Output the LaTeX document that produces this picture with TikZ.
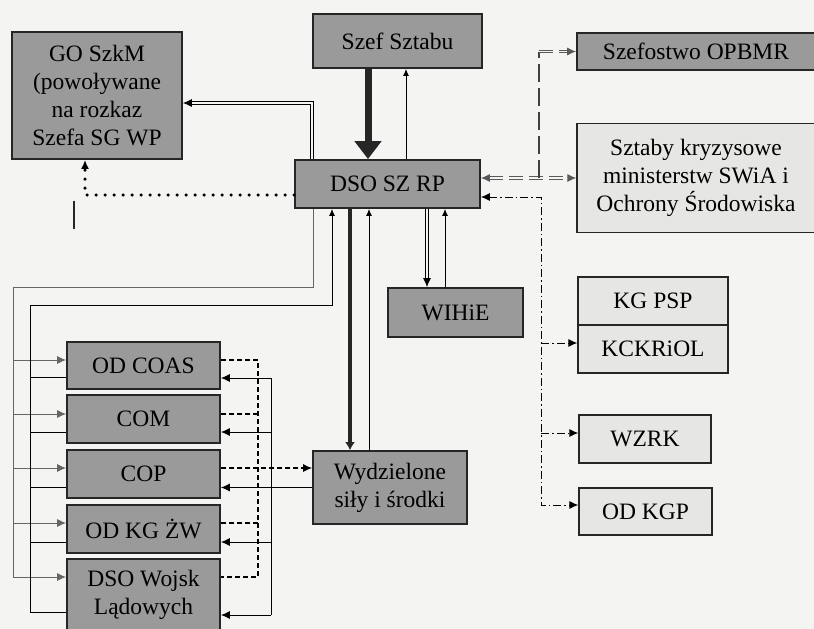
\documentclass[tikz,border=0pt]{standalone}
\usepackage{fontspec}
\setmainfont{Liberation Serif}
\usepackage{xcolor}
\definecolor{boxdark}{HTML}{9A9A9A}
\definecolor{boxlight}{HTML}{E6E6E4}
\definecolor{edgegray}{HTML}{262626}
\definecolor{paper}{HTML}{F4F4F2}
\usetikzlibrary{arrows.meta,calc}

\begin{document}
\begin{tikzpicture}[x=1pt,y=-1pt,font=\fontsize{23.5}{28}\selectfont,line width=1pt,
  dbox/.style={draw=edgegray,line width=1.8pt,fill=boxdark,align=center,inner sep=0pt},
  lbox/.style={draw=edgegray,line width=1.3pt,fill=boxlight,align=center,inner sep=0pt},
  tip/.style={-{Latex[length=9pt,width=8pt]}},
  smalltip/.style={-{Latex[length=7pt,width=6pt]}},
  dblline/.style={double=paper,double distance=1.8pt,line width=0.9pt},
  dbldash/.style={draw=gray!70!black,double=paper,double distance=1.4pt,line width=1pt,
                  dash pattern=on 14pt off 6pt},
  longdash/.style={draw=gray!50!black,line width=1.4pt,dash pattern=on 18pt off 6pt},
  dashdot/.style={line width=1pt,dash pattern=on 8pt off 3pt on 1.5pt off 3pt},
  dots/.style={line width=3.5pt,dash pattern=on 0pt off 9pt,line cap=round},
  dsh/.style={line width=1.1pt,dash pattern=on 5pt off 3pt},
  thinline/.style={draw=gray!80!black,line width=0.9pt}]
  % Page
  \fill[paper] (0,0) rectangle (814,629);
  \useasboundingbox (0,0) rectangle (814,629);
  % Top boxes
  \node[dbox,minimum width=170pt,minimum height=127pt] (goszkm) at (97,95.5)
    {GO SzkM\\(powoływane\\na rozkaz\\Szefa SG WP};
  \node[dbox,minimum width=169pt,minimum height=54pt] (szef) at (397.5,41) {Szef Sztabu};
  \node[dbox,minimum width=185pt,minimum height=48pt] (dso) at (387.5,184) {DSO SZ RP};
  \node[dbox,minimum width=238pt,minimum height=37pt] (opbmr) at (696,51.5) {Szefostwo OPBMR};
  \node[lbox,minimum width=238pt,minimum height=109pt] (sztaby) at (696,178)
    {Sztaby kryzysowe\\ministerstw SWiA i\\Ochrony Środowiska};
  \node[dbox,minimum width=135pt,minimum height=49pt] (wihie) at (455.5,312.5) {WIHiE};
  % Right column
  \node[lbox,minimum width=150pt,minimum height=48pt] (kgpsp) at (653,301) {KG PSP};
  \node[lbox,minimum width=150pt,minimum height=48pt] (kckriol) at (653,349) {KCKRiOL};
  \node[lbox,minimum width=132pt,minimum height=48pt] (wzrk) at (645,439) {WZRK};
  \node[lbox,minimum width=133pt,minimum height=47pt] (odkgp) at (645.5,511.5) {OD KGP};
  % Left column
  \node[dbox,minimum width=153pt,minimum height=47pt] (odcoas) at (143.5,365.5) {OD COAS};
  \node[dbox,minimum width=153pt,minimum height=48pt] (com) at (143.5,419) {COM};
  \node[dbox,minimum width=153pt,minimum height=48pt] (cop) at (143.5,474) {COP};
  \node[dbox,minimum width=153pt,minimum height=48pt] (odkgzw) at (143.5,529) {OD KG ŻW};
  \node[dbox,minimum width=153pt,minimum height=72pt] (dsowl) at (143.5,595) {DSO Wojsk\\Lądowych};
  \node[dbox,minimum width=154pt,minimum height=73pt] (wydz) at (390,487.5) {Wydzielone\\siły i środki};
  % Szef Sztabu and DSO SZ RP
  \draw[line width=7pt,draw=edgegray,-{Triangle[length=18pt,width=26pt]}]
    ([xshift=-29.5pt]szef.south) -- ([xshift=-19.5pt]dso.north);
  \draw[smalltip] ([xshift=18.5pt]dso.north) -- ([xshift=8.5pt]szef.south);
  % GO SzkM
  \draw[dblline,tip] ([xshift=-75.5pt]dso.north) |- ([yshift=-7.5pt]goszkm.east);
  \draw[dots,tip] ([yshift=-11pt]dso.west) -| ([xshift=-12pt]goszkm.south);
  \draw[line width=2pt,draw=edgegray]
    ([shift={(-23pt,-41pt)}]goszkm.south) -- ([shift={(-23pt,-69pt)}]goszkm.south);
  % Crisis staffs
  \coordinate (kryz) at (539,178);
  \draw[dbldash,{Latex[length=9pt,width=8pt]}-{Latex[length=9pt,width=8pt]}]
    ([yshift=6pt]dso.east) -- (sztaby.west);
  \draw[longdash] (kryz) -- (kryz |- opbmr.west);
  \draw[dbldash,tip] (kryz |- opbmr.west) -- (opbmr.west);
  % Dash-dot bus
  \coordinate (ddtop) at (541,197);
  \draw[dashdot,{Latex[length=9pt,width=8pt]}-{Latex[length=9pt,width=8pt]}]
    ([yshift=-13pt]dso.east) -- (ddtop) |- ([yshift=6.5pt]odkgp.west);
  \draw[dashdot,tip] ($(ddtop |- kckriol.west)+(0,-6)$) -- ([yshift=6pt]kckriol.west);
  \draw[dashdot,tip] ($(ddtop |- wzrk.west)+(0,-6)$) -- ([yshift=6pt]wzrk.west);
  % DSO SZ RP down to WIHiE and Wydzielone
  \draw[line width=4.5pt,draw=edgegray,-{Latex[length=8pt,width=10pt]}]
    ([xshift=-37.5pt]dso.south) -- ([xshift=-40pt]wydz.north);
  \draw[smalltip] ([xshift=-21pt]wydz.north) -- ([xshift=-18.5pt]dso.south);
  \draw[dblline,tip] ([xshift=39.5pt]dso.south) -- ([xshift=-28.5pt]wihie.north);
  \draw[smalltip] ([xshift=-10.5pt]wihie.north) -- ([xshift=57.5pt]dso.south);
  % Outer line into left column
  \coordinate (outr) at (13,287);
  \draw[thinline,tip] ([xshift=-74.5pt]dso.south) |- (outr) |- ([yshift=18pt]dsowl.west);
  \draw[thinline,tip] ($(outr |- odcoas.west)+(0,-5.5)$) -- ([yshift=5.5pt]odcoas.west);
  \draw[thinline,tip] ($(outr |- com.west)+(0,-5)$) -- ([yshift=5pt]com.west);
  \draw[thinline,tip] ($(outr |- cop.west)+(0,-6)$) -- ([yshift=6pt]cop.west);
  \draw[thinline,tip] ($(outr |- odkgzw.west)+(0,-6)$) -- ([yshift=6pt]odkgzw.west);
  % Inner line back to DSO SZ RP
  \coordinate (innr) at (30,305);
  \draw[smalltip] ([yshift=-17pt]dsowl.west) -| (innr) -| ([xshift=-55.5pt]dso.south);
  \draw ([yshift=-11.5pt]odcoas.west) -- ($(innr |- odcoas.west)+(0,11.5)$);
  \draw ([yshift=-13pt]com.west) -- ($(innr |- com.west)+(0,13)$);
  \draw ([yshift=-13pt]cop.west) -- ($(innr |- cop.west)+(0,13)$);
  \draw ([yshift=-13pt]odkgzw.west) -- ($(innr |- odkgzw.west)+(0,13)$);
  % Dashed bus to Wydzielone
  \coordinate (dtop) at (258,360);
  \coordinate (dbot) at (258,577);
  \draw[dsh] ([yshift=5.5pt]odcoas.east) -- (dtop) -- (dbot) -- ([yshift=18pt]dsowl.east);
  \draw[dsh] ([yshift=5pt]com.east) -- ($(dtop |- com.east)+(0,-5)$);
  \draw[dsh] ([yshift=6pt]odkgzw.east) -- ($(dtop |- odkgzw.east)+(0,-6)$);
  \draw[dsh,tip] ([yshift=6pt]cop.east) -- ([yshift=19.5pt]wydz.west);
  % Solid bus from Wydzielone
  \coordinate (rtop) at (271,378);
  \coordinate (rbot) at (271,615);
  \draw (rtop) -- (rbot);
  \draw[tip] (wydz.west) -- ([yshift=-13.5pt]cop.east);
  \draw[tip] (rtop) -- ([yshift=-12.5pt]odcoas.east);
  \draw[tip] ($(rtop |- com.east)+(0,13)$) -- ([yshift=-13pt]com.east);
  \draw[tip] ($(rtop |- odkgzw.east)+(0,13)$) -- ([yshift=-13pt]odkgzw.east);
  \draw[tip] (rbot) -- ([yshift=-20pt]dsowl.east);
\end{tikzpicture}
\end{document}
